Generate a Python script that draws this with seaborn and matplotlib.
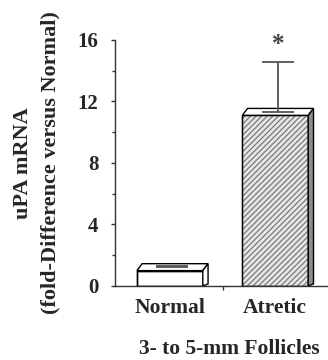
import matplotlib
matplotlib.use("Agg")
import matplotlib.pyplot as plt
import seaborn as sns
import pandas as pd
from matplotlib.patches import Polygon, Rectangle
from matplotlib.ticker import MultipleLocator, FixedLocator

categories = ["Normal", "Atretic"]
values = [1.0, 11.1]
errors = [0.3, 3.45]
yticks = [0, 4, 8, 12, 16]
ylabel = "uPA mRNA\n(fold-Difference versus Normal)"
xlabel = "3- to 5-mm Follicles"

sns.set_theme(style="white")
plt.rcParams["font.family"] = ["Liberation Serif", "DejaVu Serif"]
plt.rcParams["font.weight"] = "bold"
plt.rcParams["hatch.linewidth"] = 0.9

df = pd.DataFrame({"group": categories, "value": values})

fig = plt.figure(figsize=(3.28, 3.60), dpi=100)
ax = fig.add_axes([0.3506, 0.2056, 0.6494, 0.6833])

sns.barplot(data=df, x="group", y="value", order=categories, ax=ax,
            width=0.625, errorbar=None, color="white", edgecolor="black",
            linewidth=1.0, zorder=2)

face_cols = ["white", "#e6e6e6"]
side_cols = ["white", "#8c8c8c"]
hatches = ["", "//////"]
hatch_cols = ["black", "#7a7a7a"]
dx, dy = 0.05, 0.45
for i, p in enumerate(ax.patches[:len(categories)]):
    p.set_facecolor(face_cols[i])
    p.set_hatch(hatches[i])
    p.set_edgecolor(hatch_cols[i])
    x0, y0 = p.get_x(), p.get_y()
    w, h = p.get_width(), p.get_height()
    x1, y1 = x0 + w, y0 + h
    ax.add_patch(Rectangle((x0, y0), w, h, facecolor="none", edgecolor="black",
                           lw=1.0, zorder=3))
    top = Polygon([(x0, y1), (x1, y1), (x1 + dx, y1 + dy), (x0 + dx, y1 + dy)],
                  closed=True, facecolor="white", edgecolor="black", lw=1.0, zorder=3)
    side = Polygon([(x1, y0), (x1, y1), (x1 + dx, y1 + dy), (x1 + dx, y0 + dy * 0.3)],
                   closed=True, facecolor=side_cols[i], edgecolor="black", lw=1.0, zorder=3)
    ax.add_patch(top)
    ax.add_patch(side)
    xc = x0 + w / 2 + dx / 2
    ax.errorbar([xc], [y1 + dy * 0.5], yerr=[[0], [values[i] + errors[i] - y1 - dy * 0.5]],
                fmt="none", ecolor="#555555", elinewidth=1.3, capsize=11.5,
                capthick=1.3, zorder=4)

ax.text(1 + dx / 2, 15.7, "*", ha="center", va="center", fontsize=18,
        fontweight="bold", color="#444444")

ax.set_xlim(-0.52, 1.5)
ax.set_ylim(0, 16)
ax.set_yticks(yticks)
ax.set_yticklabels([str(t) for t in yticks])
ax.yaxis.set_minor_locator(MultipleLocator(2))
ax.xaxis.set_minor_locator(FixedLocator([0.5]))
ax.tick_params(axis="y", which="major", left=True, direction="out", length=3,
               width=1, pad=9, labelsize=15, color="#333333")
ax.tick_params(axis="y", which="minor", left=True, direction="out", length=2,
               width=1, color="#333333")
ax.tick_params(axis="x", which="major", bottom=False, length=0, pad=9, labelsize=15.5)
ax.tick_params(axis="x", which="minor", bottom=True, direction="out", length=3,
               width=1, color="#333333")
for lab in ax.get_xticklabels() + ax.get_yticklabels():
    lab.set_fontweight("bold")

sns.despine(ax=ax, top=True, right=True)
for s in ["left", "bottom"]:
    ax.spines[s].set_color("#333333")
    ax.spines[s].set_linewidth(1.0)

ax.set_xlabel(xlabel, fontsize=15.5, fontweight="bold")
ax.xaxis.set_label_coords(0.535, -0.215)
ax.set_ylabel(ylabel, fontsize=16, fontweight="bold", labelpad=12, linespacing=1.55)

fig.savefig("out.png", dpi=100)
